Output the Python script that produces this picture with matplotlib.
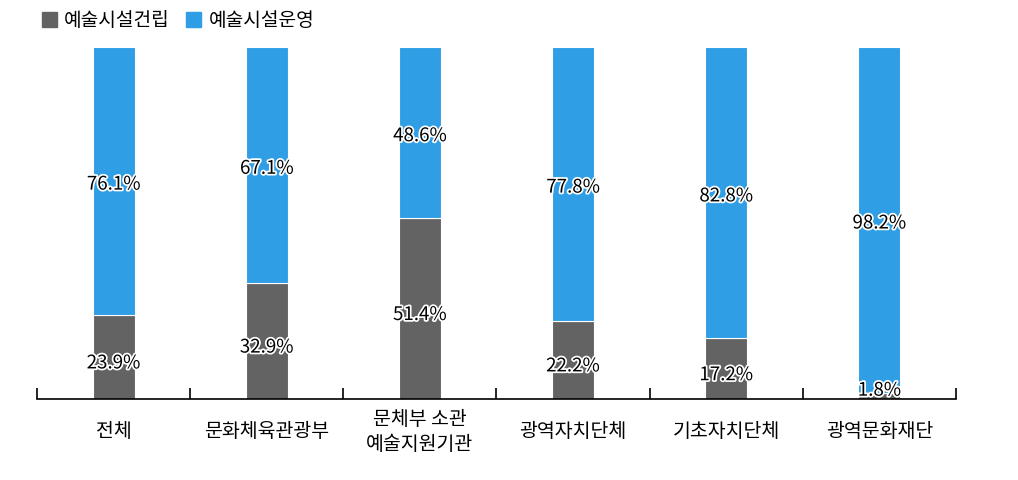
import matplotlib
matplotlib.use("Agg")
import matplotlib.pyplot as plt
import matplotlib.patheffects as pe
from matplotlib.transforms import blended_transform_factory

plt.rcParams['font.family'] = ['Noto Sans CJK KR', 'DejaVu Sans']

categories = ["전체", "문화체육관광부", "문체부 소관\n예술지원기관",
              "광역자치단체", "기초자치단체", "광역문화재단"]
build = [23.9, 32.9, 51.4, 22.2, 17.2, 1.8]
operate = [76.1, 67.1, 48.6, 77.8, 82.8, 98.2]
series_names = ["예술시설건립", "예술시설운영"]

gray = "#636363"
blue = "#2f9ee5"

fig = plt.figure(figsize=(10.18, 4.81), dpi=100)
ax = fig.add_axes([37 / 1018, 81 / 481, 919 / 1018, 352 / 481])

x = list(range(len(categories)))
w = 0.275
ax.bar(x, build, width=w, color=gray, edgecolor="white", linewidth=0.8,
       label=series_names[0])
ax.bar(x, operate, width=w, bottom=build, color=blue, edgecolor="white",
       linewidth=0.8, label=series_names[1])

stroke = [pe.withStroke(linewidth=2.5, foreground="white")]
for i in x:
    yb = max(build[i] / 2 - 1.7, 2.5)
    ax.text(i, yb, f"{build[i]}%", ha="center", va="center",
            fontsize=13.5, color="black", path_effects=stroke)
    ax.text(i, build[i] + operate[i] / 2 - 0.9, f"{operate[i]}%", ha="center",
            va="center", fontsize=13.5, color="black", path_effects=stroke)

ax.set_xlim(-0.5, len(categories) - 0.5)
ax.set_ylim(0, 100)
for s in ["top", "right", "left"]:
    ax.spines[s].set_visible(False)
ax.spines["bottom"].set_linewidth(1.2)
ax.set_yticks([])
ax.set_xticks([i - 0.5 for i in range(len(categories) + 1)])
ax.set_xticklabels([])
ax.tick_params(axis="x", direction="in", length=8, width=1.2, color="black")

trans = blended_transform_factory(ax.transData, ax.transAxes)
for i, c in enumerate(categories):
    ax.text(i, -32 / 352, c, transform=trans, ha="center", va="center",
            fontsize=14, linespacing=1.2, multialignment="center")

# legend
fig.patches.append(plt.Rectangle((42 / 1018, 1 - 28 / 481), 15 / 1018, 15 / 481,
                                 transform=fig.transFigure, color=gray))
fig.text(64 / 1018, 1 - 20 / 481, series_names[0], fontsize=13.8, va="center")
fig.patches.append(plt.Rectangle((186 / 1018, 1 - 28 / 481), 15 / 1018, 15 / 481,
                                 transform=fig.transFigure, color=blue))
fig.text(209 / 1018, 1 - 20 / 481, series_names[1], fontsize=13.8, va="center")

fig.savefig("out.png", dpi=100)
